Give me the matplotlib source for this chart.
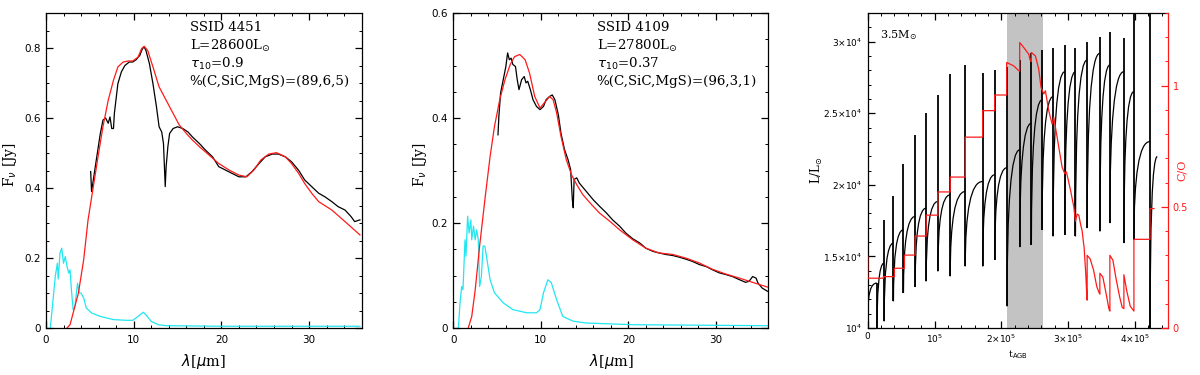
import matplotlib
matplotlib.use("Agg")
import matplotlib.pyplot as plt
from matplotlib.path import Path
from matplotlib.patches import PathPatch, Rectangle
from matplotlib.ticker import MultipleLocator, FixedLocator

# ---------------- Panel 1 : SSID 4451 ----------------
p1_obs_x = [5.1, 5.2, 5.8, 6.2, 6.5, 6.8, 7.1, 7.3, 7.5, 7.7, 7.8, 8.2, 8.6, 9.0, 9.5, 9.9,
            10.3, 10.7, 11.0, 11.2, 11.4, 11.8, 12.2, 12.6, 12.9, 13.2, 13.4, 13.6, 13.7, 13.9,
            14.1, 14.5, 15.0, 15.6, 16.2, 16.7, 17.5, 18.2, 19.0, 19.7, 20.5, 21.2, 22.0, 22.8,
            23.5, 24.3, 25.0, 25.8, 26.5, 27.3, 28.0, 28.8, 29.5, 30.3, 31.1, 31.8, 32.6, 33.3,
            34.1, 34.8, 35.2, 35.8]
p1_obs_y = [0.447, 0.39, 0.49, 0.556, 0.594, 0.60, 0.585, 0.603, 0.57, 0.57, 0.613, 0.698,
            0.732, 0.75, 0.76, 0.76, 0.767, 0.779, 0.798, 0.803, 0.793, 0.755, 0.698, 0.632,
            0.575, 0.56, 0.527, 0.404, 0.46, 0.518, 0.556, 0.57, 0.575, 0.57, 0.56, 0.546,
            0.527, 0.508, 0.489, 0.461, 0.451, 0.442, 0.432, 0.432, 0.447, 0.47, 0.489, 0.497,
            0.497, 0.489, 0.475, 0.451, 0.423, 0.404, 0.385, 0.375, 0.361, 0.347, 0.337, 0.318,
            0.304, 0.309]
p1_mod_x = [2.4, 2.75, 3.1, 3.7, 4.3, 4.8, 5.4, 6.0, 6.5, 7.1, 7.7, 8.2, 8.8, 9.4, 9.9, 10.5,
            10.9, 11.2, 11.6, 12.2, 12.9, 13.7, 14.5, 15.2, 16.0, 16.7, 17.5, 18.6, 19.7, 20.9,
            22.0, 22.9, 23.7, 24.5, 25.4, 26.3, 27.3, 28.0, 28.8, 29.5, 30.3, 31.1, 32.6, 34.1,
            35.8]
p1_mod_y = [0.0, 0.0095, 0.043, 0.10, 0.195, 0.309, 0.404, 0.499, 0.575, 0.651, 0.708, 0.746,
            0.76, 0.763, 0.763, 0.774, 0.798, 0.805, 0.793, 0.746, 0.689, 0.651, 0.613, 0.58,
            0.556, 0.537, 0.518, 0.494, 0.47, 0.451, 0.437, 0.432, 0.451, 0.48, 0.497, 0.501,
            0.489, 0.47, 0.442, 0.413, 0.385, 0.361, 0.337, 0.304, 0.266]
p1_star_x = [0.5, 1.06, 1.3, 1.4, 1.6, 1.8, 2.0, 2.2, 2.4, 2.6, 2.75, 2.9, 3.1, 3.3, 3.6, 3.8,
             4.0, 4.3, 4.6, 5.2, 6.2, 7.7, 9.2, 9.9, 10.5, 11.1, 11.4, 12.0, 12.8, 13.7, 20.0,
             35.8]
p1_star_y = [0.0, 0.147, 0.185, 0.14, 0.214, 0.228, 0.185, 0.204, 0.176, 0.157, 0.166, 0.11,
             0.052, 0.062, 0.128, 0.10, 0.10, 0.086, 0.057, 0.043, 0.033, 0.024, 0.022, 0.022,
             0.033, 0.045, 0.038, 0.019, 0.0095, 0.0067, 0.005, 0.005]
p1_text = ["SSID 4451", r"L=28600L$_{\odot}$", r"$\tau_{10}$=0.9", "%(C,SiC,MgS)=(89,6,5)"]

# ---------------- Panel 2 : SSID 4109 ----------------
p2_obs_x = [5.1, 5.2, 5.4, 5.7, 6.0, 6.2, 6.4, 6.6, 6.8, 7.1, 7.3, 7.5, 7.8, 8.1, 8.3, 8.5,
            8.8, 9.1, 9.5, 9.9, 10.3, 10.6, 11.0, 11.3, 11.6, 12.0, 12.3, 12.7, 13.1, 13.4,
            13.6, 13.7, 13.8, 14.1, 14.4, 15.2, 16.0, 16.7, 17.5, 18.2, 19.0, 19.7, 20.5, 21.3,
            22.0, 22.8, 23.5, 24.3, 25.1, 25.8, 26.6, 27.3, 28.1, 28.9, 29.6, 30.4, 31.1, 31.9,
            32.7, 33.4, 33.8, 34.2, 34.6, 34.8, 35.3, 35.9]
p2_obs_y = [0.368, 0.403, 0.448, 0.473, 0.498, 0.524, 0.511, 0.514, 0.502, 0.498, 0.473,
            0.454, 0.473, 0.479, 0.467, 0.47, 0.454, 0.435, 0.422, 0.416, 0.422, 0.435, 0.441,
            0.444, 0.435, 0.406, 0.371, 0.34, 0.321, 0.302, 0.244, 0.229, 0.283, 0.286, 0.276,
            0.26, 0.244, 0.232, 0.219, 0.206, 0.194, 0.181, 0.17, 0.162, 0.152, 0.146, 0.143,
            0.14, 0.138, 0.135, 0.131, 0.127, 0.121, 0.117, 0.111, 0.105, 0.102, 0.098, 0.092,
            0.087, 0.089, 0.098, 0.095, 0.086, 0.076, 0.07]
p2_mod_x = [1.7, 2.1, 2.5, 3.0, 3.6, 4.2, 4.7, 5.3, 5.9, 6.5, 7.0, 7.6, 8.2, 8.7, 9.3, 9.9,
            10.4, 11.0, 11.4, 11.8, 12.3, 12.9, 13.5, 14.1, 14.8, 15.8, 16.7, 17.9, 19.0, 20.5,
            22.0, 23.5, 25.1, 26.6, 28.1, 29.6, 31.1, 32.7, 34.2, 35.9]
p2_mod_y = [0.0, 0.022, 0.073, 0.156, 0.244, 0.327, 0.384, 0.435, 0.473, 0.502, 0.517, 0.521,
            0.511, 0.486, 0.441, 0.419, 0.429, 0.441, 0.435, 0.41, 0.365, 0.321, 0.292, 0.273,
            0.254, 0.235, 0.219, 0.203, 0.187, 0.168, 0.152, 0.143, 0.14, 0.133, 0.124, 0.112,
            0.103, 0.095, 0.087, 0.078]
p2_star_x = [0.57, 0.76, 0.95, 1.1, 1.33, 1.44, 1.63, 1.8, 2.0, 2.1, 2.3, 2.5, 2.66, 2.85, 3.0,
             3.2, 3.4, 3.6, 3.9, 4.2, 4.7, 5.7, 6.8, 8.4, 9.5, 9.9, 10.3, 10.8, 11.2, 11.8,
             12.5, 13.7, 15.2, 20.5, 35.9]
p2_star_y = [0.0, 0.048, 0.079, 0.073, 0.168, 0.137, 0.213, 0.181, 0.206, 0.168, 0.194, 0.168,
             0.187, 0.168, 0.079, 0.098, 0.156, 0.156, 0.124, 0.092, 0.067, 0.048, 0.035,
             0.029, 0.029, 0.035, 0.067, 0.092, 0.086, 0.054, 0.022, 0.013, 0.0095, 0.0063,
             0.0044]
p2_text = ["SSID 4109", r"L=27800L$_{\odot}$", r"$\tau_{10}$=0.37", "%(C,SiC,MgS)=(96,3,1)"]

# ---------------- Panel 3 : 3.5 Msun AGB evolution ----------------
pulse_t = [0, 13500, 24500, 38500, 53500, 71000, 87500, 105000, 123500, 146000, 172000,
           190000, 208500, 227500, 245000, 261000, 277500, 295000, 311000, 328500, 347500,
           362500, 383500, 398500, 422500]
pulse_peak = [11300, 13140, 17512, 19186, 21465, 23488, 25000, 26279, 27721, 28372, 27791,
              28023, 28256, 28721, 29233, 29419, 29535, 29767, 29535, 30000, 30349, 30698,
              30233, 33000, 33000]
pulse_dip = [10900, 9000, 10465, 11860, 12442, 12860, 13256, 13953, 13605, 14302, 14302,
             14767, 11512, 15651, 15814, 16860, 16395, 16512, 16395, 16977, 16744, 17326,
             15930, 16163, 9000]
# luminosity reached at the end of each interpulse (just before the next pulse / end)
plateau_L = [13140, 14535, 15930, 16860, 17791, 18372, 18837, 19302, 19535, 20233, 20700,
             21200, 22442, 24302, 25930, 26163, 27900, 27907, 28721, 29186, 28372, 27907,
             26512, 23023, 21977]
end_t = 433500

co_t = [0, 0, 23500, 23500, 40000, 40000, 55000, 55000, 71000, 71000, 87500, 87500, 105000,
        105000, 123500, 123500, 146000, 146000, 172000, 172000, 190000, 190000, 208000,
        208000, 218500, 226000, 227500, 227500, 233500, 241000, 243500, 245000, 245000,
        251000, 256000, 259500, 263500, 266000, 271000, 276000, 278500, 283500, 291000,
        295000, 297500, 303500, 308500, 311000, 313500, 316000, 318500, 321000, 324000,
        326500, 328000, 328500, 328500, 333000, 338000, 343000, 346500, 347500, 347500,
        352000, 357000, 361000, 362500, 362500, 367000, 372000, 377000, 381000, 383500,
        383500, 388000, 393000, 398500, 398500, 422500, 422500, 428500]
co_v = [0.2945, 0.2055, 0.2055, 0.212, 0.212, 0.2466, 0.2466, 0.301, 0.301, 0.3795, 0.3795,
        0.4658, 0.4658, 0.5616, 0.5616, 0.623, 0.623, 0.7877, 0.7877, 0.897, 0.897, 0.9616,
        0.9616, 1.096, 1.082, 1.062, 1.06, 1.178, 1.158, 1.13, 1.103, 1.10, 1.137, 1.123,
        1.068, 0.993, 0.966, 0.979, 0.897, 0.842, 0.870, 0.788, 0.664, 0.637, 0.644, 0.57,
        0.50, 0.44, 0.47, 0.466, 0.43, 0.40, 0.33, 0.22, 0.13, 0.115, 0.30, 0.285, 0.24,
        0.17, 0.145, 0.14, 0.226, 0.21, 0.14, 0.08, 0.07, 0.30, 0.28, 0.20, 0.13, 0.085,
        0.08, 0.22, 0.15, 0.09, 0.07, 0.366, 0.366, 0.493, 0.493]
shade_t = [208500, 262000]
p3_text = r"3.5M$_{\odot}$"

RED = "#ff1a1a"
CYAN = "#22e6f0"
TICKFS = 7.5
TXTFONT = "DejaVu Serif"

plt.rcParams["font.family"] = ["DejaVu Sans"]
plt.rcParams["xtick.direction"] = "in"
plt.rcParams["ytick.direction"] = "in"

fig = plt.figure(figsize=(12, 3.75), dpi=100)
bot, hgt = 0.1253, 0.84
ax1 = fig.add_axes([0.0383, bot, 0.2631, hgt])
ax2 = fig.add_axes([0.3778, bot, 0.2625, hgt])
ax3 = fig.add_axes([0.7231, bot, 0.2505, hgt])


def style_spec(ax, ymax, ymaj, ylab_x):
    ax.set_xlim(0, 36)
    ax.set_ylim(0, ymax)
    ax.xaxis.set_major_locator(MultipleLocator(10))
    ax.xaxis.set_minor_locator(MultipleLocator(2))
    ax.yaxis.set_major_locator(MultipleLocator(ymaj))
    ax.yaxis.set_minor_locator(MultipleLocator(0.05))
    ax.tick_params(which="both", top=True, right=True, labelsize=TICKFS)
    ax.tick_params(axis="x", pad=5)
    ax.tick_params(axis="y", pad=4)
    ax.tick_params(which="major", length=5, width=0.9)
    ax.tick_params(which="minor", length=2.5, width=0.7)
    ax.set_xlabel(r"$\lambda$[$\mu$m]", fontsize=10.5, family=TXTFONT)
    ax.xaxis.set_label_coords(0.5, -0.075)
    ax.set_ylabel(r"F$_{\nu}$ [Jy]", fontsize=10, family=TXTFONT)
    ax.yaxis.set_label_coords(ylab_x, 0.52)
    ax.yaxis.set_major_formatter(plt.FuncFormatter(lambda v, p: "0" if v == 0 else f"{v:.1f}"))
    for s in ax.spines.values():
        s.set_linewidth(0.9)


for ax, obs, mod, star, txt, ymax, ylx in [
    (ax1, (p1_obs_x, p1_obs_y), (p1_mod_x, p1_mod_y), (p1_star_x, p1_star_y), p1_text, 0.9, -0.085),
    (ax2, (p2_obs_x, p2_obs_y), (p2_mod_x, p2_mod_y), (p2_star_x, p2_star_y), p2_text, 0.6, -0.078),
]:
    ax.plot(*star, color=CYAN, lw=0.9)
    ax.plot(*obs, color="black", lw=0.9)
    ax.plot(*mod, color=RED, lw=0.9)
    style_spec(ax, ymax, 0.2, ylx)
    for i, line in enumerate(txt):
        ax.text(0.455, 0.955 - i * 0.058, line, transform=ax.transAxes, fontsize=9.6,
                family=TXTFONT, va="center", ha="left")

# ---- panel 3 ----
ax3.add_patch(Rectangle((shade_t[0], 0), shade_t[1] - shade_t[0], 1,
                        transform=ax3.get_xaxis_transform(), color="#c3c3c3", lw=0, zorder=0))
n = len(pulse_t)
for i in range(n):
    t0 = pulse_t[i]
    t1 = pulse_t[i + 1] if i + 1 < n else end_t
    ax3.vlines(t0, pulse_dip[i], pulse_peak[i], color="black", lw=1.3, zorder=2)
    verts = [(t0, pulse_dip[i]), (t0, plateau_L[i]), (t1, plateau_L[i])]
    path = Path(verts, [Path.MOVETO, Path.CURVE3, Path.CURVE3])
    ax3.add_patch(PathPatch(path, fill=False, ec="black", lw=0.9, zorder=2))

ax3.set_xlim(0, 4.5e5)
ax3.set_ylim(1e4, 3.2e4)
ax3.xaxis.set_major_locator(FixedLocator([0, 1e5, 2e5, 3e5, 4e5]))
ax3.xaxis.set_minor_locator(MultipleLocator(2e4))
ax3.set_xticklabels(["0", r"$10^5$", r"$2{\times}10^5$", r"$3{\times}10^5$", r"$4{\times}10^5$"])
ax3.yaxis.set_major_locator(FixedLocator([1e4, 1.5e4, 2e4, 2.5e4, 3e4]))
ax3.yaxis.set_minor_locator(MultipleLocator(1e3))
ax3.set_yticklabels([r"$10^4$", r"$1.5{\times}10^4$", r"$2{\times}10^4$",
                     r"$2.5{\times}10^4$", r"$3{\times}10^4$"])
ax3.tick_params(which="both", top=True, right=False, labelsize=6.5, pad=4)
ax3.tick_params(axis="x", pad=3)
ax3.tick_params(which="major", length=5, width=0.9)
ax3.tick_params(which="minor", length=2.5, width=0.7)
ax3.set_xlabel(r"t$_{\rm AGB}$", fontsize=7, family=TXTFONT)
ax3.xaxis.set_label_coords(0.5, -0.065)
ax3.set_ylabel(r"L/L$_{\odot}$", fontsize=8.5, family=TXTFONT)
ax3.yaxis.set_label_coords(-0.142, 0.5)
ax3.text(0.04, 0.93, p3_text, transform=ax3.transAxes, fontsize=8, family=TXTFONT,
         va="center", ha="left")
ax3.spines["right"].set_visible(False)
for s in ax3.spines.values():
    s.set_linewidth(0.9)

ax3r = ax3.twinx()
ax3r.plot(co_t, co_v, color=RED, lw=0.9)
ax3r.set_ylim(0, 1.3)
ax3r.yaxis.set_major_locator(FixedLocator([0, 0.5, 1]))
ax3r.yaxis.set_minor_locator(MultipleLocator(0.1))
ax3r.set_yticklabels(["0", "0.5", "1"])
ax3r.tick_params(which="both", colors=RED, labelsize=7, pad=3, direction="in")
ax3r.tick_params(which="major", length=5, width=0.9)
ax3r.tick_params(which="minor", length=2.5, width=0.7)
ax3r.set_ylabel("C/O", color=RED, fontsize=8, family=TXTFONT)
ax3r.yaxis.set_label_coords(1.03, 0.5)
for k, s in ax3r.spines.items():
    s.set_visible(k == "right")
ax3r.spines["right"].set_color(RED)
ax3r.spines["right"].set_linewidth(0.9)

fig.savefig("out.png", dpi=100)
